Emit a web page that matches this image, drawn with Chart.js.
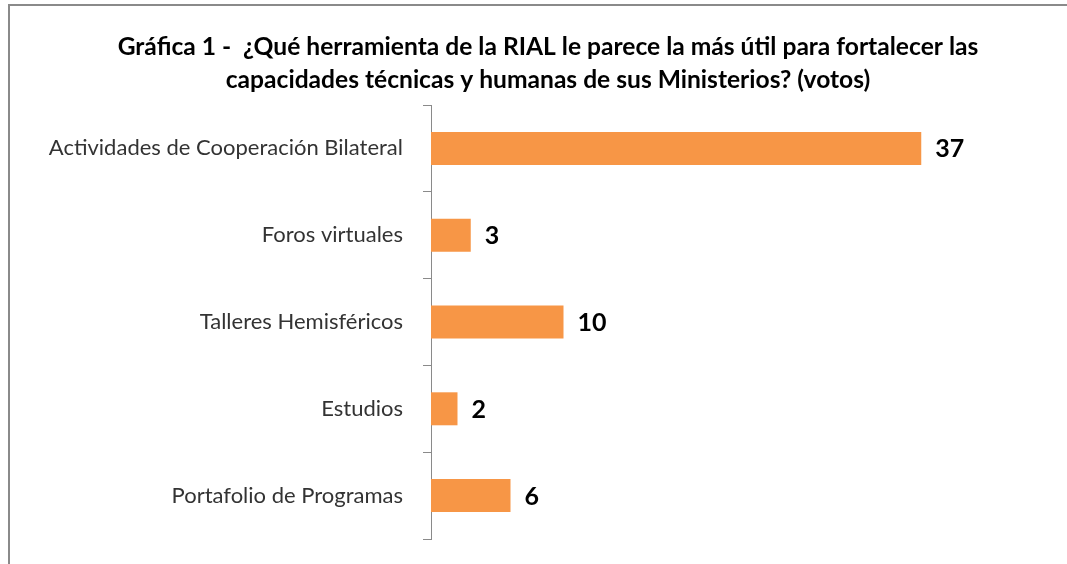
<!DOCTYPE html>
<html>
<head>
<meta charset="utf-8">
<script src="https://cdn.jsdelivr.net/npm/chart.js@4/dist/chart.umd.min.js"></script>
<style>
html,body{margin:0;padding:0;background:#fff;overflow:hidden;}
#wrap{position:absolute;left:0;top:0;width:1067px;height:564px;}
#frame{position:absolute;left:8px;top:4px;width:1100px;height:600px;border-left:2px solid #8a8a8a;border-top:2px solid #8a8a8a;box-sizing:border-box;pointer-events:none;}
</style>
</head>
<body>
<div id="wrap"><canvas id="c" width="1067" height="564"></canvas></div>
<div id="frame"></div>
<script>
const categories = ["Actividades de Cooperación Bilateral", "Foros virtuales", "Talleres Hemisféricos", "Estudios", "Portafolio de Programas"];
const votes = [37, 3, 10, 2, 6];
const titleLines = ["Gráfica 1 -  ¿Qué herramienta de la RIAL le parece la más útil para fortalecer las", "capacidades técnicas y humanas de sus Ministerios? (votos)"];

const titlePlugin = {
  id: 'customTitle',
  afterDraw(chart) {
    const ctx = chart.ctx;
    ctx.save();
    ctx.fillStyle = '#000';
    ctx.font = 'bold 24.6px Lato';
    ctx.textAlign = 'center';
    ctx.textBaseline = 'middle';
    ctx.fillText(titleLines[0], 548, 47);
    ctx.fillText(titleLines[1], 548, 80);
    ctx.restore();
  }
};
const labelPlugin = {
  id: 'valueLabels',
  afterDatasetsDraw(chart) {
    const ctx = chart.ctx;
    const meta = chart.getDatasetMeta(0);
    ctx.save();
    ctx.fillStyle = '#000';
    ctx.font = 'bold 25px Lato';
    ctx.textAlign = 'left';
    ctx.textBaseline = 'middle';
    meta.data.forEach((bar, i) => {
      ctx.fillText(String(votes[i]), bar.x + 14, bar.y + 1);
    });
    ctx.restore();
  }
};

new Chart(document.getElementById('c'), {
  type: 'bar',
  data: {
    labels: categories,
    datasets: [{
      data: votes,
      backgroundColor: '#F79646',
      borderWidth: 0,
      categoryPercentage: 1,
      barPercentage: 0.38
    }]
  },
  options: {
    indexAxis: 'y',
    responsive: false,
    animation: false,
    layout: { padding: { top: 105, bottom: 25, right: 106, left: 0 } },
    plugins: { legend: { display: false }, title: { display: false }, tooltip: { enabled: false } },
    scales: {
      x: { display: false, min: 0, max: 40 },
      y: {
        afterFit(scale) { scale.width = 431; scale.paddingTop = 0; scale.paddingBottom = 0; },
        grid: { drawOnChartArea: false, tickLength: 8, color: '#8a8a8a', offset: true },
        border: { display: true, color: '#8a8a8a', width: 1 },
        ticks: { color: '#333', font: { family: 'Lato', size: 22 }, padding: 20 }
      }
    }
  },
  plugins: [titlePlugin, labelPlugin]
});
</script>
</body>
</html>
